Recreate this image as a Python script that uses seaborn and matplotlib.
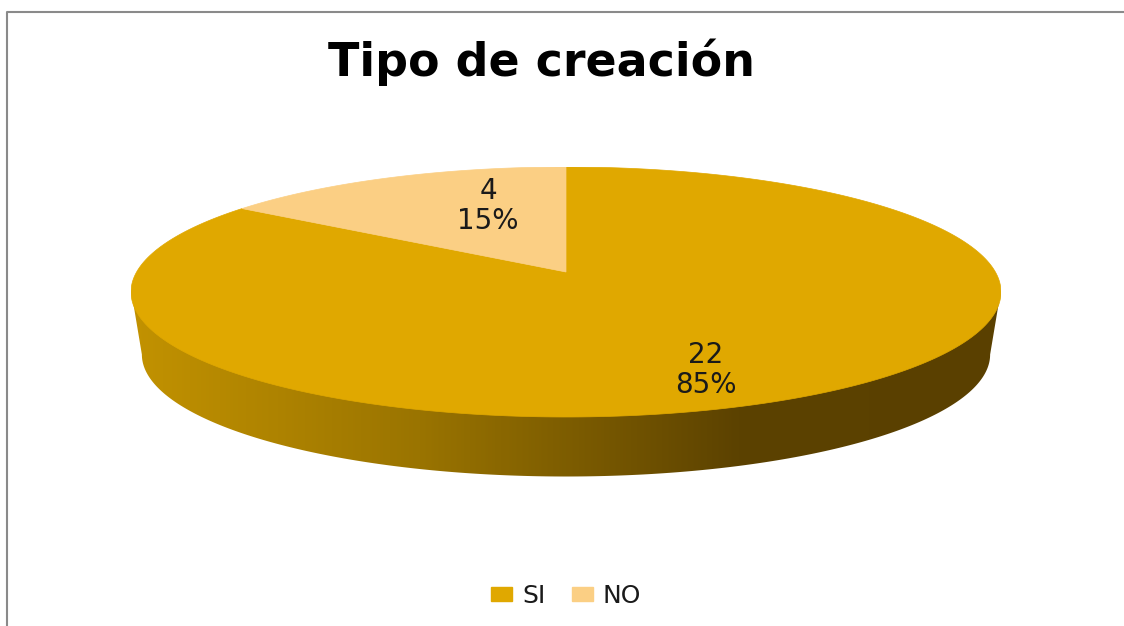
import numpy as np
import matplotlib
matplotlib.use("Agg")
import matplotlib.pyplot as plt
import seaborn as sns
from matplotlib.colors import LinearSegmentedColormap
from matplotlib.lines import Line2D
from matplotlib.patches import Patch, Polygon

categories = ["SI", "NO"]
counts = [22, 4]
colors = ["#E0A800", "#FBCF84"]
title = "Tipo de creación"

W, H = 1124, 626
sns.set_theme(style="white")
plt.rcParams["font.family"] = ["DejaVu Sans"]

fig = plt.figure(figsize=(W / 100, H / 100), dpi=100)
fig.patch.set_facecolor("white")

# axes box is 1 unit = 435px wide, 125px tall, so the pie comes out squashed
ax = fig.add_axes([131 / W, (H - 492) / H, 870 / W, 325 / H])
wedges, _ = ax.pie(counts, colors=sns.color_palette(colors), startangle=90,
                   counterclock=False)
ax.set_aspect("auto")
ax.axis("off")

# perspective tilt: the pie centre sits above the middle of the ellipse
tilt = 0.16
def project(xy):
    den = 1 + tilt * xy[:, 1]
    return np.column_stack([xy[:, 0] * np.sqrt(1 - tilt ** 2) / den,
                            (xy[:, 1] + tilt) / den])

for w, c in zip(wedges, colors):
    w.set_visible(False)
    a = np.radians(np.linspace(w.theta1, w.theta2, 300))
    rim = np.column_stack([np.cos(a), np.sin(a)])
    poly = np.vstack([[[0, 0]], rim])
    ax.add_patch(Polygon(project(poly), closed=True, facecolor=c,
                         edgecolor=c, linewidth=0.5, zorder=3))

# side wall with the horizontal shading
t = np.linspace(np.pi, 2 * np.pi, 300)
upper = np.column_stack([np.cos(t), np.sin(t) + 0.02])
lower = np.column_stack([0.975 * np.cos(t[::-1]), -0.5 + 0.976 * np.sin(t[::-1])])
wall = Polygon(np.vstack([upper, lower]), closed=True, facecolor="none",
               edgecolor="none")
ax.add_patch(wall)
shade = LinearSegmentedColormap.from_list(
    "wall", [(0, "#C29200"), (0.33, "#9A7400"), (0.7, "#5C4200"), (1, "#5A4000")])
im = ax.imshow(np.linspace(0, 1, 400)[None, :], cmap=shade, aspect="auto",
               extent=[-1, 1, -1.6, 0.1], zorder=2)
im.set_clip_path(wall)
ax.set_xlim(-1, 1)
ax.set_ylim(-1.6, 1)

fig.text(542 / W, 1 - 62 / H, title, ha="center", va="center", fontsize=33,
         fontweight="bold", color="black")

total = sum(counts)
label_pos = [(706, 370), (488, 206)]
for n, (px, py) in zip(counts, label_pos):
    fig.text(px / W, 1 - py / H, f"{n}\n{round(100 * n / total)}%", ha="center",
             va="center", fontsize=20, color="#1a1a1a", linespacing=1.08)

handles = [Patch(facecolor=c, edgecolor=c) for c in colors]
fig.legend(handles, categories, loc="center", bbox_to_anchor=(566 / W, 1 - 596 / H),
           ncol=2, frameon=False, fontsize=18, labelcolor="#1a1a1a",
           handlelength=0.84, handleheight=0.48, handletextpad=0.4, columnspacing=1.04)

# chart border, only top and left are inside the picture
fig.add_artist(Line2D([7 / W, 7 / W, 1], [0, 1 - 12 / H, 1 - 12 / H],
                      color="#8a8a8a", linewidth=1.5, transform=fig.transFigure))

fig.savefig("out.png", dpi=100)
